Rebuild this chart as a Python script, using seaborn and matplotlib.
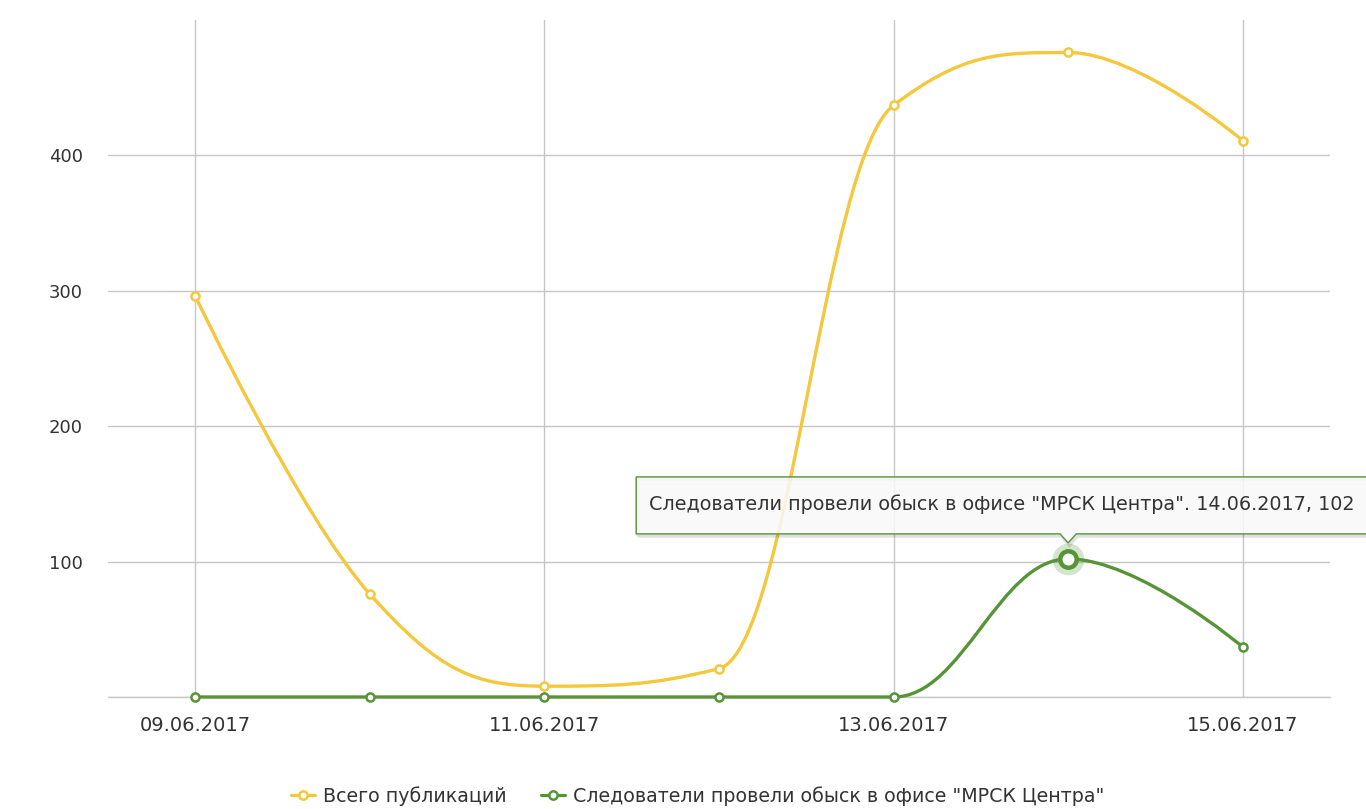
import numpy as np
import pandas as pd
import matplotlib
matplotlib.use('Agg')
import matplotlib.pyplot as plt
import matplotlib.transforms as mtransforms
from matplotlib.path import Path
from matplotlib.patches import PathPatch, Polygon
from matplotlib.lines import Line2D
import seaborn as sns

# data
dates = ['09.06.2017', '10.06.2017', '11.06.2017', '12.06.2017',
         '13.06.2017', '14.06.2017', '15.06.2017']
total = [296, 76, 8, 21, 437, 476, 411]
search = [0, 0, 0, 0, 0, 102, 37]
name_total = 'Всего публикаций'
name_search = 'Следователи провели обыск в офисе "МРСК Центра"'
hover_idx = 5

yellow = '#f4c73c'
green = '#579438'
grid_c = '#c6c6c6'
text_c = '#333333'

sns.set_style('white')
plt.rcParams['font.family'] = ['DejaVu Sans']


def spline_path(xs, ys, smoothing=1.5):
    # highcharts-like spline, control points from neighbours
    n = len(xs)
    lc = [(xs[i], ys[i]) for i in range(n)]
    rc = [(xs[i], ys[i]) for i in range(n)]
    d = smoothing + 1
    for i in range(1, n - 1):
        x, y = xs[i], ys[i]
        lx, ly = xs[i - 1], ys[i - 1]
        nx, ny = xs[i + 1], ys[i + 1]
        lcx = (smoothing * x + lx) / d
        lcy = (smoothing * y + ly) / d
        rcx = (smoothing * x + nx) / d
        rcy = (smoothing * y + ny) / d
        corr = ((rcy - lcy) * (rcx - x)) / (rcx - lcx) + y - rcy
        lcy += corr
        rcy += corr
        if lcy > ly and lcy > y:
            lcy = max(ly, y); rcy = 2 * y - lcy
        elif lcy < ly and lcy < y:
            lcy = min(ly, y); rcy = 2 * y - lcy
        if rcy > ny and rcy > y:
            rcy = max(ny, y); lcy = 2 * y - rcy
        elif rcy < ny and rcy < y:
            rcy = min(ny, y); lcy = 2 * y - rcy
        lc[i] = (lcx, lcy)
        rc[i] = (rcx, rcy)
    verts = [(xs[0], ys[0])]
    codes = [Path.MOVETO]
    for i in range(1, n):
        verts += [rc[i - 1], lc[i], (xs[i], ys[i])]
        codes += [Path.CURVE4] * 3
    return Path(verts, codes)


df = pd.DataFrame({'idx': np.arange(len(dates)), 'date': dates,
                   'total': total, 'search': search})

fig = plt.figure(figsize=(13.66, 8.09), dpi=100)
ax = fig.add_axes([108 / 1366, 1 - 697 / 809, (1330 - 108) / 1366, (697 - 20) / 809])

ax.axhline(0, color=grid_c, lw=1.0, clip_on=False, zorder=1)

for col, c in [('total', yellow), ('search', green)]:
    p = spline_path(df['idx'].tolist(), df[col].tolist())
    ax.add_patch(PathPatch(p, facecolor='none', edgecolor=c, lw=2.4,
                           clip_on=False, zorder=3, capstyle='round', joinstyle='round'))
    sns.scatterplot(data=df, x='idx', y=col, ax=ax, marker='o', s=34,
                    facecolor='white', edgecolor=c, linewidth=1.8,
                    clip_on=False, zorder=4, legend=False)

# hovered point: halo + big marker
hx, hy = df['idx'][hover_idx], df['search'][hover_idx]
ax.scatter([hx], [hy], s=520, color=green, alpha=0.25, lw=0, zorder=5, clip_on=False)
ax.scatter([hx], [hy], s=140, facecolor='white', edgecolor=green, lw=3.2, zorder=6, clip_on=False)

ax.set_xlim(-0.5, 6.5)
ax.set_ylim(0, 500)
ax.set_xticks(df['idx'][::2])
ax.set_xticklabels(df['date'][::2])
ax.set_yticks([0, 100, 200, 300, 400])
ax.set_yticklabels(['', '100', '200', '300', '400'])
ax.grid(True, color=grid_c, lw=1.0)
for s in ax.spines.values():
    s.set_visible(False)
ax.tick_params(axis='x', length=11.5, width=1.0, color=grid_c, pad=2,
               labelsize=14, labelcolor=text_c, direction='out')
ax.tick_params(axis='y', length=0, pad=18, labelsize=13, labelcolor=text_c)
ax.set_xlabel('')
ax.set_ylabel('')

# tooltip callout, in points around the hovered point
px, py = ax.transData.transform((hx, hy))
tr = mtransforms.Affine2D().scale(fig.dpi / 72).translate(px, py)
callout = [(-311, 18), (-5.8, 18), (0, 11.5), (5.8, 18), (240, 18), (240, 59), (-311, 59)]
shadow = Polygon([(x + 1, y - 1.2) for x, y in callout], closed=True, facecolor='none',
                 edgecolor='black', alpha=0.12, lw=3, zorder=7, clip_on=False, transform=tr)
ax.add_patch(shadow)
box = Polygon(callout, closed=True, facecolor=(0.976, 0.976, 0.976, 0.86), edgecolor=green,
              lw=1.0, zorder=8, clip_on=False, transform=tr)
ax.add_patch(box)
tip = f'{name_search}. {dates[hover_idx]}, {hy}'
ax.text(-301.6, 39.5, tip, transform=tr, ha='left', va='center', fontsize=13.8,
        color=text_c, zorder=9)

handles = [Line2D([], [], color=yellow, lw=2.3, marker='o', ms=6,
                  markerfacecolor='white', markeredgewidth=1.8),
           Line2D([], [], color=green, lw=2.3, marker='o', ms=6,
                  markerfacecolor='white', markeredgewidth=1.8)]
fig.legend(handles, [name_total, name_search], loc='center', ncol=2,
           bbox_to_anchor=(0.5106, 0.016), frameon=False, fontsize=13.7,
           handlelength=1.3, columnspacing=1.8, handletextpad=0.4,
           labelcolor=text_c)

fig.savefig('out.png', dpi=100)
